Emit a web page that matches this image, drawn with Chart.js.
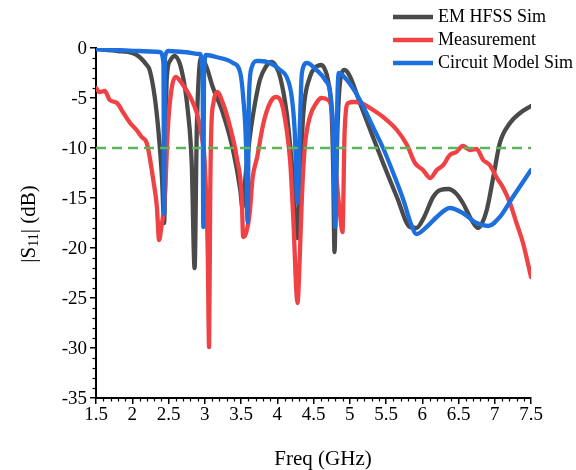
<!DOCTYPE html>
<html>
<head>
<meta charset="utf-8">
<script src="https://cdn.jsdelivr.net/npm/chart.js@4"></script>
<style>
html,body{margin:0;padding:0;background:#fff;}
#wrap{width:576px;height:470px;}
</style>
</head>
<body>
<div id="wrap"><canvas id="c" width="576" height="470"></canvas></div>
<script>
// ---- data ----
const seriesNames = ['EM HFSS Sim', 'Measurement', 'Circuit Model Sim'];
const xTitle = 'Freq (GHz)';

const hfssFreq = [1.5,1.8,2.0,2.1,2.2,2.24,2.31,2.36,2.41,2.44,2.46,2.475,2.52,2.58,2.68,2.77,2.82,2.86,2.89,2.92,2.95,3.02,3.11,3.25,3.39,3.49,3.52,3.56,3.62,3.67,3.76,3.84,3.92,3.98,4.04,4.13,4.2,4.28,4.31,4.36,4.45,4.52,4.61,4.66,4.7,4.75,4.77,4.79,4.81,4.83,4.87,4.93,5.0,5.14,5.32,5.46,5.65,5.83,5.92,6.02,6.15,6.25,6.36,6.46,6.56,6.68,6.77,6.82,6.89,6.98,7.07,7.21,7.35,7.5];
const hfssS11 = [-0.1,-0.3,-0.5,-0.9,-1.7,-2.2,-4.9,-8.2,-13,-17.5,-10,-3.2,-1.3,-0.8,-2.2,-6.5,-11.5,-22,-8.2,-2.5,-1.0,-1.8,-3.9,-6.5,-10.2,-14.2,-16,-13,-9,-6.5,-3.2,-1.9,-1.4,-1.8,-2.9,-6.5,-11.5,-19,-14,-6.5,-2.9,-2.0,-1.7,-2.2,-3.2,-6.5,-11.5,-20.4,-14,-8.2,-3.2,-2.2,-2.8,-5.5,-8.9,-11.5,-14.9,-17.9,-18.0,-17,-14.9,-14.2,-14.1,-14.5,-15.5,-17.2,-18,-17.6,-16.2,-12.9,-9.5,-7.5,-6.5,-5.8];

const measFreq = [1.5,1.55,1.62,1.69,1.79,1.87,1.97,2.06,2.13,2.2,2.24,2.29,2.34,2.37,2.40,2.45,2.49,2.54,2.6,2.7,2.8,2.89,2.96,3.0,3.04,3.06,3.075,3.09,3.12,3.17,3.25,3.35,3.44,3.51,3.53,3.57,3.62,3.66,3.72,3.81,3.9,3.98,4.06,4.13,4.18,4.22,4.28,4.31,4.34,4.38,4.45,4.54,4.61,4.7,4.75,4.8,4.87,4.9,4.93,4.98,5.05,5.16,5.28,5.46,5.65,5.79,5.9,6.01,6.11,6.2,6.29,6.38,6.47,6.56,6.66,6.75,6.84,6.93,7.03,7.11,7.21,7.3,7.39,7.5];
const measS11 = [-4.0,-4.4,-4.3,-5.2,-5.5,-6.4,-7.5,-8.2,-8.9,-9.5,-10.9,-13.2,-15.9,-19.2,-18,-14.9,-8.2,-4.2,-2.9,-3.7,-4.9,-6.5,-8.9,-11.5,-20,-29.9,-15,-8.2,-5.5,-4.4,-5.5,-7.9,-10.9,-14.9,-18.9,-18.5,-16.5,-13,-11.0,-7.5,-5.5,-4.9,-5.5,-8.2,-11.5,-16.9,-25.5,-21,-14.9,-9.9,-6.9,-5.5,-5.0,-5.2,-6.2,-11.5,-16.9,-18.4,-8.2,-5.5,-5.4,-5.5,-6.0,-6.9,-8.2,-9.7,-11.5,-12.2,-13.0,-12.2,-11.7,-10.7,-10.4,-9.8,-10.2,-10.1,-11.2,-11.7,-13.0,-13.9,-15.5,-17.5,-19.5,-22.9];

const circFreq = [1.5,1.8,2.1,2.38,2.43,2.44,2.45,2.5,2.7,2.93,2.97,2.98,2.99,3.02,3.16,3.39,3.49,3.53,3.57,3.59,3.61,3.65,3.72,3.76,3.9,4.04,4.13,4.2,4.24,4.28,4.31,4.34,4.41,4.54,4.66,4.73,4.77,4.8,4.83,4.85,4.96,5.14,5.32,5.46,5.6,5.74,5.84,5.92,6.06,6.2,6.38,6.56,6.75,6.91,7.07,7.25,7.5];
const circS11 = [-0.1,-0.2,-0.3,-0.4,-1.5,-16.6,-1.0,-0.3,-0.4,-0.6,-2.5,-17.9,-2.5,-0.7,-0.9,-1.5,-2.5,-4.9,-9.9,-17.4,-4.9,-1.9,-1.3,-1.3,-1.5,-2.2,-2.9,-4.9,-8.2,-15.5,-8.2,-2.5,-1.5,-2.2,-3.2,-4.5,-8.2,-17.9,-4.9,-2.5,-3.2,-5.2,-7.9,-10,-12.5,-15.2,-17.5,-18.6,-17.9,-16.9,-16.0,-16.5,-17.5,-17.8,-16.9,-14.9,-12.2];

const refFreq = [1.5, 7.5];
const refS11 = [-10, -10];

const xTickLabels = ['1.5','2','2.5','3','3.5','4','4.5','5','5.5','6','6.5','7','7.5'];
const yTickLabels = ['0','-5','-10','-15','-20','-25','-30','-35'];

const xMin = 1.5, xMax = 7.5, xStep = 0.5;
const yMin = -35, yMax = 0, yStep = 5;

// ---- build ----
const pts = (xs, ys) => xs.map((x, i) => ({x: x, y: ys[i]}));
const colors = ['#4a4a4a', '#f04244', '#1c6fdc'];
const serif = "'Liberation Serif', 'Times New Roman', serif";
Chart.defaults.font.family = serif;
Chart.defaults.color = '#000';

const overlay = {
  id: 'overlay',
  afterDraw(chart) {
    const ctx = chart.ctx;
    const xs = chart.scales.x, ys = chart.scales.y;
    const a = chart.chartArea;
    ctx.save();
    // minor ticks
    ctx.strokeStyle = '#000';
    ctx.lineWidth = 1.2;
    for (let k = 1; k < Math.round((xMax - xMin) * 10); k++) {
      if (k % 5 === 0) continue;
      const px = Math.round(xs.getPixelForValue(xMin + k * 0.1)) + 0.5;
      ctx.beginPath(); ctx.moveTo(px, a.bottom); ctx.lineTo(px, a.bottom + 3.5); ctx.stroke();
    }
    for (let k = 1; k < (yMax - yMin); k++) {
      if (k % 5 === 0) continue;
      const py = Math.round(ys.getPixelForValue(yMin + k)) + 0.5;
      ctx.beginPath(); ctx.moveTo(a.left, py); ctx.lineTo(a.left - 3.5, py); ctx.stroke();
    }
    // tick labels
    ctx.fillStyle = '#000';
    ctx.font = '19px ' + serif;
    ctx.textAlign = 'center';
    ctx.textBaseline = 'top';
    xTickLabels.forEach(t => {
      ctx.fillText(t, xs.getPixelForValue(parseFloat(t)), a.bottom + 8);
    });
    ctx.textAlign = 'right';
    ctx.textBaseline = 'middle';
    yTickLabels.forEach(t => {
      ctx.fillText(t, a.left - 9, ys.getPixelForValue(parseFloat(t)) + 1);
    });
    // x title
    ctx.font = '21px ' + serif;
    ctx.textAlign = 'center';
    ctx.textBaseline = 'middle';
    ctx.fillText(xTitle, 323, 459);
    // y title with subscript
    ctx.translate(29, 224);
    ctx.rotate(-Math.PI / 2);
    const big = '21px ' + serif, small = '14px ' + serif;
    const p1 = '|S', p2 = '11', p3 = '| (dB)';
    ctx.font = big; const w1 = ctx.measureText(p1).width, w3 = ctx.measureText(p3).width;
    ctx.font = small; const w2 = ctx.measureText(p2).width;
    let sx = -(w1 + w2 + w3) / 2;
    ctx.textAlign = 'left';
    ctx.font = big; ctx.fillText(p1, sx, 0); sx += w1;
    ctx.font = small; ctx.fillText(p2, sx, 5); sx += w2;
    ctx.font = big; ctx.fillText(p3, sx, 0);
    ctx.restore();
    // legend
    ctx.save();
    ctx.font = '18px ' + serif;
    ctx.textAlign = 'left';
    ctx.textBaseline = 'middle';
    seriesNames.forEach((n, i) => {
      const yy = 17 + i * 23;
      ctx.strokeStyle = colors[i];
      ctx.lineWidth = 4.5;
      ctx.beginPath(); ctx.moveTo(393, yy); ctx.lineTo(433, yy); ctx.stroke();
      ctx.fillStyle = '#000';
      ctx.fillText(n, 438, yy);
    });
    ctx.restore();
  }
};

const lineDs = (label, data, color, order) => ({
  label, data, borderColor: color, backgroundColor: color,
  borderWidth: 4.3, pointRadius: 0, fill: false,
  cubicInterpolationMode: 'monotone', tension: 0.4,
  borderCapStyle: 'round', borderJoinStyle: 'round', order
});

new Chart(document.getElementById('c'), {
  type: 'line',
  data: {
    datasets: [
      lineDs(seriesNames[0], pts(hfssFreq, hfssS11), colors[0], 3),
      lineDs(seriesNames[1], pts(measFreq, measS11), colors[1], 2),
      lineDs(seriesNames[2], pts(circFreq, circS11), colors[2], 1),
      {label: '-10 dB', data: pts(refFreq, refS11), borderColor: '#5cb55a', borderWidth: 2.6,
       borderDash: [10, 6], pointRadius: 0, fill: false, order: 0}
    ]
  },
  options: {
    responsive: false,
    animation: false,
    devicePixelRatio: 1,
    layout: {padding: {left: 0, top: 48, right: 45, bottom: 0}},
    plugins: {legend: {display: false}, tooltip: {enabled: false}},
    scales: {
      x: {
        type: 'linear', min: xMin, max: xMax,
        afterFit: s => { s.height = 72; },
        ticks: {stepSize: xStep, color: 'rgba(0,0,0,0)', font: {size: 19}, padding: 1, maxRotation: 0, autoSkip: false},
        grid: {drawOnChartArea: false, drawTicks: true, tickLength: 6, color: '#000', lineWidth: 1.5},
        border: {color: '#000', width: 2}
      },
      y: {
        type: 'linear', min: yMin, max: yMax,
        afterFit: s => { s.width = 96; },
        ticks: {stepSize: yStep, color: 'rgba(0,0,0,0)', font: {size: 19}, padding: 3},
        grid: {drawOnChartArea: false, drawTicks: true, tickLength: 6, color: '#000', lineWidth: 1.5},
        border: {color: '#000', width: 2}
      }
    }
  },
  plugins: [overlay]
});
</script>
</body>
</html>
